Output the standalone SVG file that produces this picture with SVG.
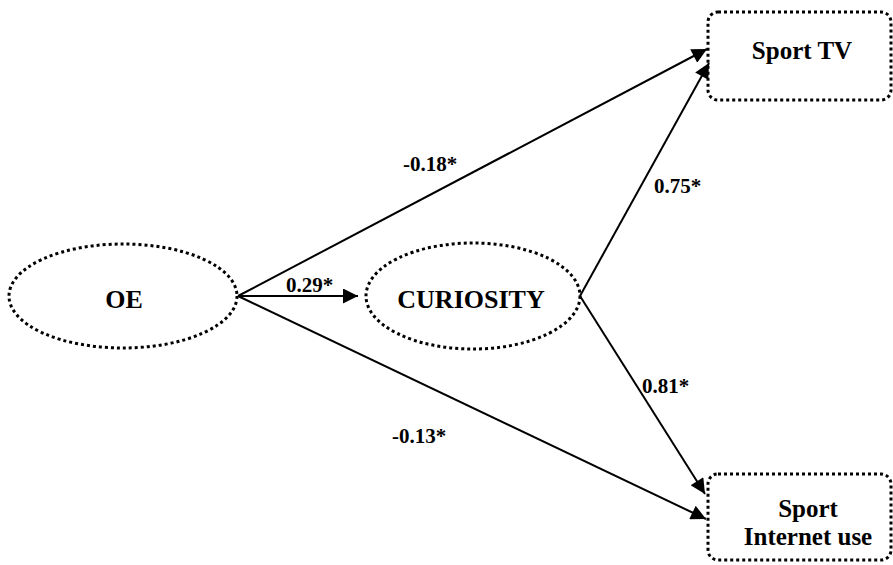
<svg xmlns="http://www.w3.org/2000/svg" width="893" height="565" viewBox="0 0 893 565">
  <style>
    .node { fill: none; stroke: #000; stroke-width: 3; stroke-dasharray: 3 3; }
    .edge { stroke: #000; stroke-width: 2; fill: none; marker-end: url(#arrow); }
    text { font-family: "Liberation Serif", "Times New Roman", "DejaVu Serif", serif; font-weight: bold; fill: #000; }
    .lbl { font-size: 21px; }
    .ntxt { font-size: 26px; text-anchor: middle; }
    .btxt { font-size: 25px; text-anchor: middle; }
  </style>
  <defs>
    <marker id="arrow" viewBox="0 0 10 10" refX="10" refY="5" markerWidth="11" markerHeight="7.5" markerUnits="strokeWidth" orient="auto">
      <path d="M0,0 L10,5 L0,10 Z" fill="#000"/>
    </marker>
  </defs>
  <rect width="893" height="565" fill="#fff"/>

  <g id="connectors">
    <line class="edge" x1="238" y1="296" x2="358" y2="296"/>
    <line class="edge" x1="238" y1="296" x2="707" y2="49"/>
    <line class="edge" x1="238" y1="296" x2="706" y2="519"/>
    <line class="edge" x1="580" y1="296" x2="709" y2="63"/>
    <line class="edge" x1="580" y1="296" x2="705" y2="494"/>
    <text class="lbl" x="403" y="171">-0.18*</text>
    <text class="lbl" x="286" y="292">0.29*</text>
    <text class="lbl" x="654" y="193">0.75*</text>
    <text class="lbl" x="642" y="393">0.81*</text>
    <text class="lbl" x="392" y="443">-0.13*</text>
  </g>

  <g id="oe">
    <ellipse class="node" cx="123" cy="296" rx="114" ry="52"/>
    <text class="ntxt" x="124" y="308">OE</text>
  </g>

  <g id="curiosity">
    <ellipse class="node" cx="473" cy="296" rx="107" ry="53"/>
    <text class="ntxt" x="471" y="308">CURIOSITY</text>
  </g>

  <g id="sport-tv">
    <rect class="node" x="708" y="12" width="183" height="88" rx="10"/>
    <text class="btxt" x="802" y="59">Sport TV</text>
  </g>

  <g id="sport-internet">
    <rect class="node" x="708" y="474" width="183" height="86" rx="10"/>
    <text class="btxt" x="808" y="517">Sport</text>
    <text class="btxt" x="808" y="545">Internet use</text>
  </g>
</svg>
